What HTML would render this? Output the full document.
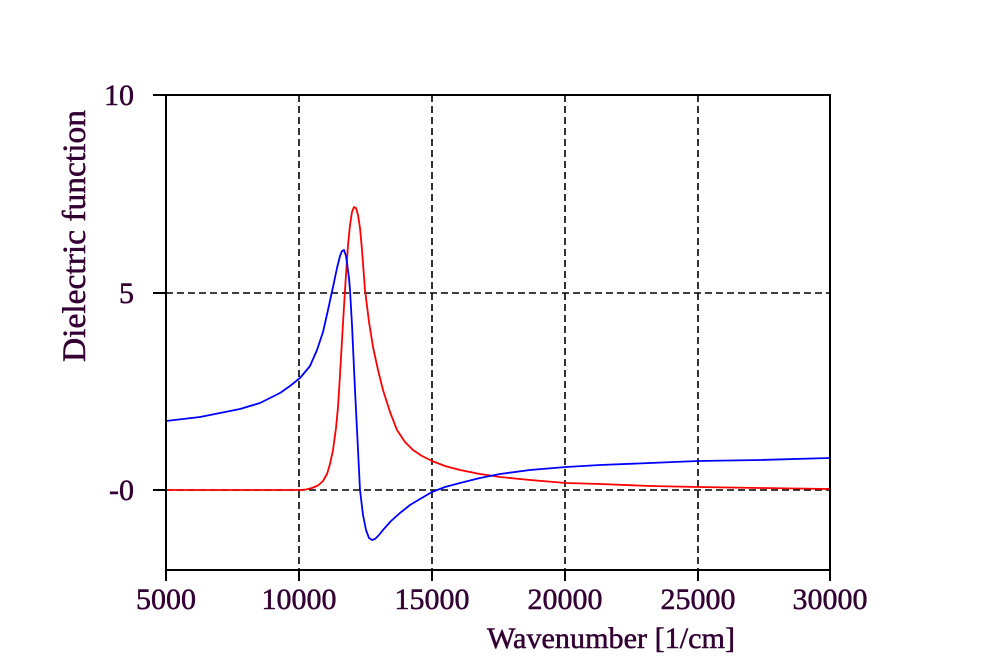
<!DOCTYPE html>
<html><head><style>
html,body{margin:0;padding:0;background:#fff;}
svg{display:block;}
text{font-family:"Liberation Serif",serif;fill:#330033;stroke:#330033;stroke-width:0.5;}
</style></head><body>
<svg width="986" height="666" viewBox="0 0 986 666" xmlns="http://www.w3.org/2000/svg">
<rect width="986" height="666" fill="#fff"/>
<g stroke="#000" stroke-width="1.6" stroke-dasharray="7,4" fill="none">
<line x1="299" y1="95" x2="299" y2="570"/>
<line x1="432" y1="95" x2="432" y2="570"/>
<line x1="565" y1="95" x2="565" y2="570"/>
<line x1="698" y1="95" x2="698" y2="570"/>
<line x1="166" y1="293" x2="830" y2="293"/>
<line x1="166" y1="490" x2="830" y2="490"/>
</g>
<polyline fill="none" stroke="#f00" stroke-width="1.8" stroke-linejoin="round" points="166,490 300,490 306,489.5 312,488 318,485.5 323,481 327,474 330,464 333,450 336,428 338,407 340,375 342,340 345,290 348,245 350,225 352,212 354,207 356,208 358,215 360,228 362,250 365,290 369,322 373,347 378,370 383,390 390,412 397,430 405,442 413,450 422,456 432,461 445,466 460,470 480,474 500,477 530,480 566,483 600,484 650,486 698,487 760,488 830,489"/>
<polyline fill="none" stroke="#00f" stroke-width="1.8" stroke-linejoin="round" points="166,421 200,417 240,409 260,403 280,393 290,386 300,378 310,366 317,350 323,332 328,310 333,287 337,268 340,256 342,251 344,250 346,256 347,263 349,278 350,290 352,325 355,390 357,430 360,490 363,515 366,530 369,538 372,540 375,539 379,535 383,530 391,521 400,513 410,505 420,499 432,492 445,487 460,483 480,478 500,474 530,470 566,467 600,465 650,463 698,461 760,460 830,458"/>
<g stroke="#000" stroke-width="2" fill="none">
<rect x="166" y="95" width="664" height="475"/>
<line x1="153" y1="95" x2="166" y2="95"/>
<line x1="153" y1="293" x2="166" y2="293"/>
<line x1="153" y1="490" x2="166" y2="490"/>
<line x1="166" y1="570" x2="166" y2="581"/>
<line x1="299" y1="570" x2="299" y2="581"/>
<line x1="432" y1="570" x2="432" y2="581"/>
<line x1="565" y1="570" x2="565" y2="581"/>
<line x1="698" y1="570" x2="698" y2="581"/>
<line x1="830" y1="570" x2="830" y2="581"/>
</g>
<g font-size="30" text-anchor="end">
<text x="134" y="105">10</text>
<text x="134" y="303">5</text>
<text x="134" y="500">-0</text>
</g>
<g font-size="30" text-anchor="middle">
<text x="166" y="609">5000</text>
<text x="299" y="609">10000</text>
<text x="432" y="609">15000</text>
<text x="565" y="609">20000</text>
<text x="698" y="609">25000</text>
<text x="830" y="609">30000</text>
</g>
<text x="611" y="648" font-size="30" text-anchor="middle" textLength="248" lengthAdjust="spacingAndGlyphs">Wavenumber [1/cm]</text>
<text transform="translate(85,236) rotate(-90)" font-size="33" text-anchor="middle" textLength="252" lengthAdjust="spacingAndGlyphs">Dielectric function</text>
</svg>
</body></html>
